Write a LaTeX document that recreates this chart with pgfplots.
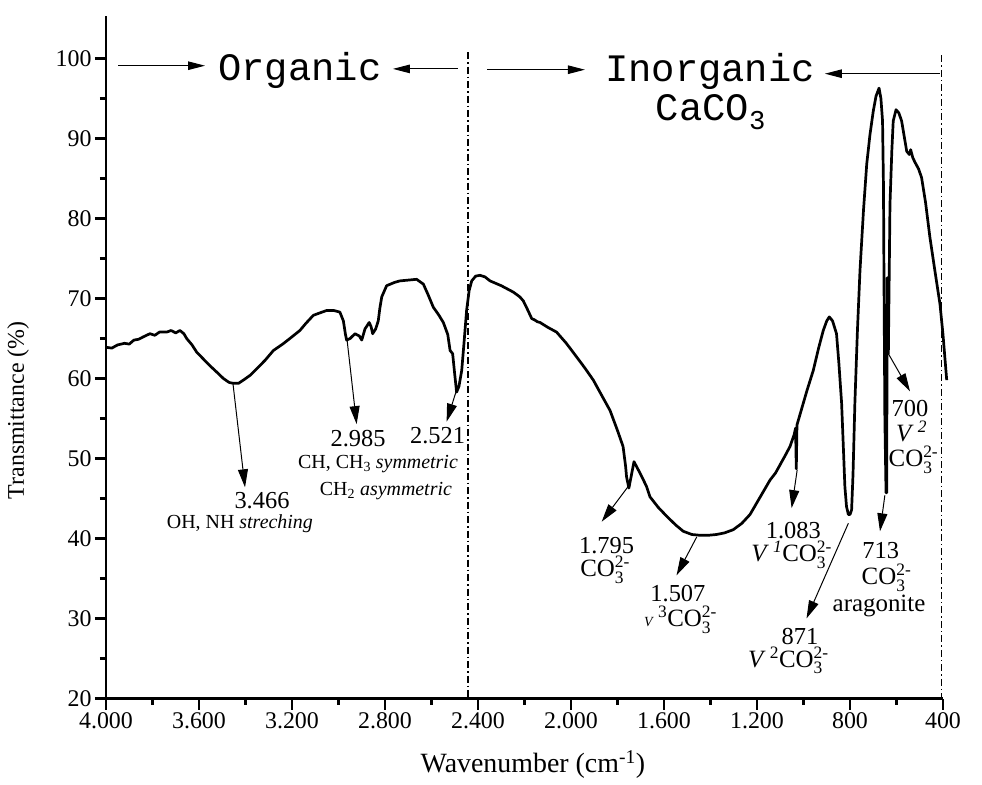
\documentclass[border=0pt]{standalone}
\usepackage{fontspec}
\setmainfont{Liberation Serif}
\newfontfamily\monofont{Liberation Mono}
\usepackage{amsmath}
\usepackage{pgfplots}
\pgfplotsset{compat=1.18}
\usetikzlibrary{arrows.meta}
\newcommand{\fs}[1]{\fontsize{#1}{#1}\selectfont}
\newcommand{\COt}{CO$^{\text{2-}}_{\text{3}}$}
\pgfplotstableread{
w T
4000 63.9
3975 63.8
3950 64.2
3920 64.4
3900 64.3
3880 64.8
3860 64.9
3840 65.2
3811 65.6
3790 65.4
3770 65.8
3739 65.8
3720 66.0
3700 65.7
3682 66.0
3665 65.6
3653 65.0
3630 64.2
3610 63.3
3580 62.4
3553 61.6
3520 60.7
3495 60.0
3470 59.5
3452 59.4
3430 59.4
3409 59.8
3380 60.4
3352 61.2
3315 62.3
3280 63.5
3240 64.3
3209 65.0
3166 66.0
3140 66.9
3108 67.9
3080 68.2
3051 68.5
3020 68.5
2994 68.3
2979 67.2
2970 65.5
2965 64.8
2950 65.0
2929 65.6
2910 65.3
2900 64.8
2886 66.2
2868 67.0
2860 66.5
2853 65.6
2840 66.2
2829 67.2
2822 68.8
2814 70.2
2793 71.6
2760 72.0
2736 72.2
2700 72.3
2664 72.4
2635 71.8
2615 70.5
2592 68.9
2570 68.0
2549 67.0
2530 65.5
2520 63.5
2509 63.1
2500 60.5
2492 58.3
2482 59.0
2470 61.0
2460 64.5
2449 68.5
2438 71.0
2427 72.2
2410 72.8
2391 72.9
2370 72.7
2348 72.2
2300 71.6
2248 70.8
2220 70.2
2205 69.7
2185 68.5
2169 67.5
2155 67.3
2145 67.1
2133 67.0
2100 66.4
2062 65.8
2020 64.4
1976 62.7
1940 61.3
1904 59.8
1870 58.0
1832 56.0
1800 53.5
1776 51.5
1765 49.0
1761 47.7
1751 46.3
1729 49.6
1700 48.0
1675 46.5
1660 45.2
1625 43.9
1589 42.8
1550 41.7
1517 40.9
1480 40.5
1445 40.4
1410 40.4
1374 40.5
1340 40.7
1302 41.1
1265 41.9
1230 43.0
1190 45.0
1170 46.0
1144 47.3
1120 48.2
1101 49.2
1080 50.3
1058 51.5
1040 53.0
1034 53.8
1031 48.7
1028 54.2
1000 57.0
985 58.5
958 61.0
935 63.8
915 66.0
900 67.2
889 67.7
875 67.2
858 65.6
848 62.0
836 56.9
828 51.0
822 46.5
815 44.0
807 43.0
800 43.0
793 43.6
787 48.0
779 56.9
768 66.0
757 73.5
742 81.0
728 86.8
714 90.5
700 93.4
688 95.3
675 96.3
667 95.0
660 92.2
656 84.0
654 73.5
650 55.0
645 45.7
642 45.7
640 72.6
635 63.1
628 81.8
620 88.5
614 92.2
602 93.6
590 93.2
578 92.2
567 90.3
556 88.4
545 88.0
539 88.6
530 87.6
520 87.0
505 86.2
492 85.1
475 82.0
456 77.6
435 73.5
413 69.3
400 65.5
384 59.8
}\spectrum
\begin{document}
\begin{tikzpicture}[
  ann/.style={-{Triangle[length=18bp,width=10bp]}, line width=1bp},
  top/.style={-{Triangle[length=17bp,width=8.5bp]}, line width=1bp},
  num/.style={font=\fs{24.5}, inner sep=0pt, anchor=base},
  co/.style={font=\fs{25}, inner sep=0pt, anchor=base},
  sm/.style={font=\fs{20}, inner sep=0pt, anchor=base},
  vl/.style={line width=1.6bp, dash pattern=on 7bp off 3bp on 1.5bp off 3bp}]
\begin{axis}[name=ax,
  scale only axis, width=837bp, height=682.8bp,
  xmin=400, xmax=4000, x dir=reverse, ymin=20, ymax=105.35,
  axis x line*=bottom, axis y line*=left,
  axis line style={line width=2.5bp},
  xtick={400,800,...,4000}, minor x tick num=1,
  ytick={20,30,...,100}, minor y tick num=1,
  tick align=outside, major tick length=11bp, minor tick length=6bp,
  tick style={line width=2.5bp, black},
  tick label style={font=\fs{24}},
  /pgf/number format/1000 sep={.},
  /pgf/number format/assume math mode=true,
  clip=false,
  xlabel={Wavenumber (cm\textsuperscript{-1})},
  xlabel style={font=\fs{28}, at={(axis description cs:0.51,-0.097)}, anchor=center},
  ylabel={Transmittance (\%)},
  ylabel style={font=\fs{24}, at={(axis description cs:-0.105,0.422)}, anchor=center},
]
\addplot[line width=2.7bp, line join=round] table[x=w, y=T] {\spectrum};
% dividing lines
\draw[vl] (axis cs:2442,100.8) -- (axis cs:2442,20);
\draw[vl] (axis cs:406,100.4) -- (axis cs:406,20);
% top labels
\draw[top] (axis cs:3948,99.1) -- (axis cs:3574,99.1);
\node[font=\monofont\fs{39}, inner sep=0pt, anchor=base] at (axis cs:3166,97.3) {Organic};
\draw[top] (axis cs:2486,98.7) -- (axis cs:2766,98.7);
\draw[top] (axis cs:2361,98.6) -- (axis cs:1940,98.6);
\node[font=\monofont\fs{39}, inner sep=0pt, anchor=base] at (axis cs:1402,97.1) {Inorganic};
\node[font=\monofont\fs{39}, inner sep=0pt, anchor=base] at (axis cs:1398,92.3) {CaCO\textsubscript{3}};
\draw[top] (axis cs:413,98.1) -- (axis cs:908,98.1);
% 3466
\draw[ann] (axis cs:3454,59.4) -- (axis cs:3402,46.4);
\node[num] at (axis cs:3329,43.75) {3.466};
\node[sm] at (axis cs:3424,41.25) {OH, NH \textit{streching}};
% 2985
\draw[ann] (axis cs:2963,64.8) -- (axis cs:2922,54.3);
\node[num] at (axis cs:2916,51.5) {2.985};
\node[sm] at (axis cs:2830,48.8) {CH, CH\textsubscript{3} \textit{symmetric}};
\node[sm] at (axis cs:2796,45.4) {CH\textsubscript{2} \textit{asymmetric}};
% 2521
\draw[ann] (axis cs:2495,58.3) -- (axis cs:2535,54.6);
\node[num] at (axis cs:2574,51.9) {2.521};
% 1795
\draw[ann] (axis cs:1754,46.5) -- (axis cs:1868,42.1);
\node[num] at (axis cs:1847,38.1) {1.795};
\node[co] at (axis cs:1853,35.2) {\COt};
% 1507
\draw[ann] (axis cs:1459,40.2) -- (axis cs:1546,35.4);
\node[num] at (axis cs:1540,32.1) {1.507};
\node[co] at (axis cs:1529,29.0) {{\fs{14}\textit{V}}\,\textsuperscript{3}\COt};
% 1083
\draw[ann] (axis cs:1027,48.6) -- (axis cs:1051,43.8);
\node[num] at (axis cs:1044,40.0) {1.083};
\node[co] at (axis cs:1051,37.1) {\textit{V}\,\textsuperscript{\textit{1}}\COt};
% 871
\draw[ann] (axis cs:807,41.9) -- (axis cs:987,30.0);
\node[num] at (axis cs:1015,26.7) {871};
\node[co] at (axis cs:1065,23.9) {\textit{V}\,\textsuperscript{2}\COt};
% 713
\draw[ann] (axis cs:650,45.4) -- (axis cs:671,40.9);
\node[num] at (axis cs:668,37.5) {713};
\node[co] at (axis cs:643,34.2) {\COt};
\node[co] at (axis cs:675,30.9) {aragonite};
% 700
\draw[ann] (axis cs:635,63.1) -- (axis cs:542,58.4);
\node[num] at (axis cs:542,55.2) {700};
\node[co] at (axis cs:535,52.1) {\textit{V}\,\textsuperscript{\textit{2}}};
\node[co] at (axis cs:527,49.0) {\COt};
\end{axis}
\pgfresetboundingbox
\path[use as bounding box] ([shift={(-106bp,-86.5bp)}]ax.south west) rectangle ([shift={(876bp,698.5bp)}]ax.south west);
\end{tikzpicture}
\end{document}
